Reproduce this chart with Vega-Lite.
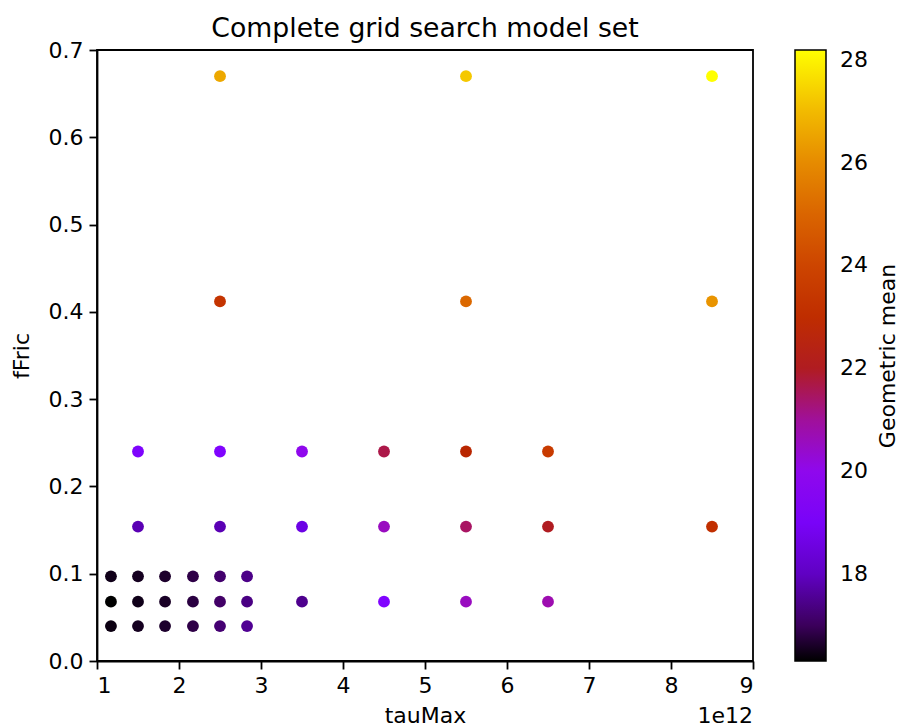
{
  "$schema": "https://vega.github.io/schema/vega-lite/v6.json",
  "width": 656,
  "height": 611,
  "autosize": {"type": "none"},
  "padding": {"left": 97, "top": 50, "right": 150, "bottom": 67},
  "background": "white",
  "config": {
    "font": "DejaVu Sans",
    "view": {"stroke": "black", "strokeWidth": 1.8},
    "axis": {"domainColor": "black", "domainWidth": 1.8, "tickColor": "black", "tickWidth": 1.8, "labelColor": "black", "titleColor": "black", "grid": false, "labelFontSize": 22, "titleFontSize": 22, "titleFontWeight": "normal", "tickSize": 8, "labelPadding": 6}
  },
  "title": {"text": "Complete grid search model set", "fontSize": 26.7, "fontWeight": "normal", "font": "DejaVu Sans", "offset": -4, "color": "black"},
  "resolve": {"scale": {"y": "independent"}, "axis": {"y": "independent"}},
  "data": {"values": [
    {"tauMax": 1.17e12, "fFric": 0.04, "gm": 16.45},
    {"tauMax": 1.5e12, "fFric": 0.04, "gm": 16.55},
    {"tauMax": 1.83e12, "fFric": 0.04, "gm": 16.65},
    {"tauMax": 2.17e12, "fFric": 0.04, "gm": 16.85},
    {"tauMax": 2.5e12, "fFric": 0.04, "gm": 17.2},
    {"tauMax": 2.83e12, "fFric": 0.04, "gm": 17.5},
    {"tauMax": 1.17e12, "fFric": 0.068, "gm": 16.31},
    {"tauMax": 1.5e12, "fFric": 0.068, "gm": 16.5},
    {"tauMax": 1.83e12, "fFric": 0.068, "gm": 16.6},
    {"tauMax": 2.17e12, "fFric": 0.068, "gm": 16.8},
    {"tauMax": 2.5e12, "fFric": 0.068, "gm": 17.1},
    {"tauMax": 2.83e12, "fFric": 0.068, "gm": 17.35},
    {"tauMax": 3.5e12, "fFric": 0.068, "gm": 17.45},
    {"tauMax": 4.5e12, "fFric": 0.068, "gm": 19.28},
    {"tauMax": 5.5e12, "fFric": 0.068, "gm": 20.6},
    {"tauMax": 6.5e12, "fFric": 0.068, "gm": 20.8},
    {"tauMax": 1.17e12, "fFric": 0.097, "gm": 16.5},
    {"tauMax": 1.5e12, "fFric": 0.097, "gm": 16.55},
    {"tauMax": 1.83e12, "fFric": 0.097, "gm": 16.65},
    {"tauMax": 2.17e12, "fFric": 0.097, "gm": 16.85},
    {"tauMax": 2.5e12, "fFric": 0.097, "gm": 17.15},
    {"tauMax": 2.83e12, "fFric": 0.097, "gm": 17.4},
    {"tauMax": 1.5e12, "fFric": 0.154, "gm": 17.8},
    {"tauMax": 2.5e12, "fFric": 0.154, "gm": 17.8},
    {"tauMax": 3.5e12, "fFric": 0.154, "gm": 18.45},
    {"tauMax": 4.5e12, "fFric": 0.154, "gm": 20.6},
    {"tauMax": 5.5e12, "fFric": 0.154, "gm": 21.5},
    {"tauMax": 6.5e12, "fFric": 0.154, "gm": 22.0},
    {"tauMax": 8.5e12, "fFric": 0.154, "gm": 23.1},
    {"tauMax": 1.5e12, "fFric": 0.24, "gm": 19.2},
    {"tauMax": 2.5e12, "fFric": 0.24, "gm": 19.3},
    {"tauMax": 3.5e12, "fFric": 0.24, "gm": 20.0},
    {"tauMax": 4.5e12, "fFric": 0.24, "gm": 21.7},
    {"tauMax": 5.5e12, "fFric": 0.24, "gm": 22.6},
    {"tauMax": 6.5e12, "fFric": 0.24, "gm": 23.6},
    {"tauMax": 2.5e12, "fFric": 0.412, "gm": 23.3},
    {"tauMax": 5.5e12, "fFric": 0.412, "gm": 25.1},
    {"tauMax": 8.5e12, "fFric": 0.412, "gm": 26.2},
    {"tauMax": 2.5e12, "fFric": 0.67, "gm": 26.65},
    {"tauMax": 5.5e12, "fFric": 0.67, "gm": 27.25},
    {"tauMax": 8.5e12, "fFric": 0.67, "gm": 28.19}
  ]},
  "layer": [
    {
      "mark": {"type": "point", "filled": true, "opacity": 1, "size": 140},
      "encoding": {
        "x": {"field": "tauMax", "type": "quantitative", "scale": {"domain": [1e12, 9e12], "nice": false, "zero": false}, "axis": {"title": "tauMax", "values": [1e12, 2e12, 3e12, 4e12, 5e12, 6e12, 7e12, 8e12, 9e12], "labelExpr": "format(datum.value/1e12, 'd')", "titlePadding": 9}},
        "y": {"field": "fFric", "type": "quantitative", "scale": {"domain": [0, 0.7], "nice": false}, "axis": {"title": "fFric", "orient": "left", "values": [0, 0.1, 0.2, 0.3, 0.4, 0.5, 0.6, 0.7], "format": ".1f", "titlePadding": 15}},
        "color": {
          "field": "gm", "type": "quantitative",
          "scale": {
            "domain": [16.31, 17.0525, 17.795, 18.5375, 19.28, 20.0225, 20.765, 21.5075, 22.25, 22.9925, 23.735, 24.4775, 25.22, 25.9625, 26.705, 27.4475, 28.19],
            "range": ["#000000", "#400062", "#5a00b4", "#6e02ec", "#8004ff", "#8f08ec", "#9c0db4", "#a91562", "#b42000", "#bf2d00", "#ca3e00", "#d35300", "#dd6c00", "#e68900", "#eeab00", "#f7d200", "#ffff00"],
            "interpolate": "rgb"
          },
          "legend": {
            "title": null,
            "orient": "none",
            "legendX": 698,
            "legendY": 0,
            "direction": "vertical",
            "gradientLength": 611,
            "gradientThickness": 31,
            "gradientStrokeColor": "black",
            "gradientStrokeWidth": 1.5,
            "values": [18, 20, 22, 24, 26, 28],
            "labelFontSize": 22,
            "labelColor": "black",
            "labelOffset": 14
          }
        }
      }
    },
    {
      "data": {"values": [{"label": "1e12"}]},
      "mark": {"type": "text", "align": "right", "baseline": "alphabetic", "fontSize": 22, "dy": 62, "color": "black"},
      "encoding": {
        "text": {"field": "label"},
        "x": {"datum": 9e12, "type": "quantitative"},
        "y": {"datum": 0, "type": "quantitative", "scale": {"domain": [0, 0.7], "nice": false}, "axis": {"orient": "right", "title": "Geometric mean", "titleAngle": 270, "titleBaseline": "bottom", "labels": false, "ticks": false, "domain": false, "titlePadding": 146}}
      }
    }
  ]
}
